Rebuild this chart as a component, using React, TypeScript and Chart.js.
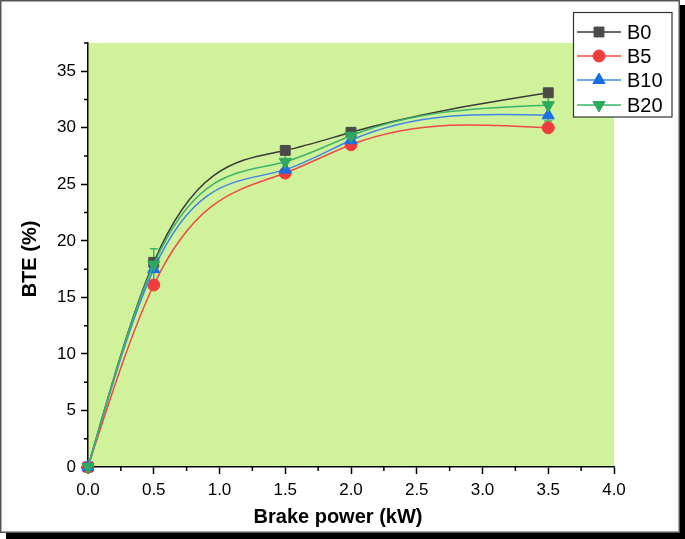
import React, { useEffect, useRef } from "react";
import { Chart, registerables } from "chart.js";

Chart.register(...registerables);

const xValues = [0, 0.5, 1.5, 2.0, 3.5];
const seriesLabels = ["B0", "B5", "B10", "B20"];
const b0 = [0, 18.1, 28.0, 29.6, 33.1];
const b5 = [0, 16.1, 26.0, 28.5, 30.0];
const b10 = [0, 17.5, 26.3, 28.9, 31.1];
const b20 = [0, 17.9, 27.0, 29.3, 32.0];
const b20Err = [0, 1.4, 0.8, 0.5, 1.4];
const xTicks = [0, 0.5, 1, 1.5, 2, 2.5, 3, 3.5, 4];
const yTicks = [0, 5, 10, 15, 20, 25, 30, 35];
const xMinor = [0.25, 0.75, 1.25, 1.75, 2.25, 2.75, 3.25, 3.75];
const yMinor = [2.5, 7.5, 12.5, 17.5, 22.5, 27.5, 32.5, 37.5];

const FONT = "'Liberation Sans', Arial, sans-serif";

const styles = [
  { line: "#3a3a3a", fill: "#4a4a4a", point: "rect", radius: 7, rotation: 0 },
  { line: "#f04848", fill: "#f03c3c", point: "circle", radius: 6, rotation: 0 },
  { line: "#3f86e8", fill: "#1a6ee6", point: "triangle", radius: 7, rotation: 0 },
  { line: "#3cb46a", fill: "#2ea85e", point: "triangle", radius: 7, rotation: 180 },
];

const seriesValues = [b0, b5, b10, b20];

function drawMarker(ctx: CanvasRenderingContext2D, kind: string, r: number, rotationDeg: number, x: number, y: number) {
  ctx.beginPath();
  if (kind === "rect") {
    const s = r / Math.SQRT2;
    ctx.rect(x - s, y - s, 2 * s, 2 * s);
  } else if (kind === "circle") {
    ctx.arc(x, y, r, 0, Math.PI * 2);
  } else {
    let rad = (rotationDeg * Math.PI) / 180;
    ctx.moveTo(x + Math.sin(rad) * r, y - Math.cos(rad) * r);
    rad += (2 * Math.PI) / 3;
    ctx.lineTo(x + Math.sin(rad) * r, y - Math.cos(rad) * r);
    rad += (2 * Math.PI) / 3;
    ctx.lineTo(x + Math.sin(rad) * r, y - Math.cos(rad) * r);
    ctx.closePath();
  }
  ctx.fill();
  ctx.stroke();
}

// Natural cubic spline rendering: set Bezier control points of the line's point elements
function applyNaturalSpline(points: any[]) {
  const n = points.length - 1;
  if (n < 2) return;
  const xs = points.map((p) => p.x);
  const ys = points.map((p) => p.y);
  const h: number[] = [];
  for (let i = 0; i < n; i++) h.push(xs[i + 1] - xs[i]);
  const M = new Array(n + 1).fill(0);
  // tridiagonal system for interior second derivatives
  const a: number[] = [], b: number[] = [], c: number[] = [], d: number[] = [];
  for (let i = 1; i < n; i++) {
    a.push(h[i - 1]);
    b.push(2 * (h[i - 1] + h[i]));
    c.push(h[i]);
    d.push(6 * ((ys[i + 1] - ys[i]) / h[i] - (ys[i] - ys[i - 1]) / h[i - 1]));
  }
  const m = b.length;
  for (let i = 1; i < m; i++) {
    const w = a[i] / b[i - 1];
    b[i] -= w * c[i - 1];
    d[i] -= w * d[i - 1];
  }
  const sol = new Array(m).fill(0);
  sol[m - 1] = d[m - 1] / b[m - 1];
  for (let i = m - 2; i >= 0; i--) sol[i] = (d[i] - c[i] * sol[i + 1]) / b[i];
  for (let i = 1; i < n; i++) M[i] = sol[i - 1];
  const slope: number[] = [];
  for (let i = 0; i < n; i++) {
    slope.push((ys[i + 1] - ys[i]) / h[i] - (h[i] * (2 * M[i] + M[i + 1])) / 6);
  }
  slope.push((ys[n] - ys[n - 1]) / h[n - 1] + (h[n - 1] * (M[n - 1] + 2 * M[n])) / 6);
  for (let i = 0; i <= n; i++) {
    const p = points[i];
    const hp = i > 0 ? h[i - 1] : 0;
    const hn = i < n ? h[i] : 0;
    p.cp1x = xs[i] - hp / 3;
    p.cp1y = ys[i] - (slope[i] * hp) / 3;
    p.cp2x = xs[i] + hn / 3;
    p.cp2y = ys[i] + (slope[i] * hn) / 3;
  }
}

const framePlugin = {
  id: "frame",
  beforeDraw(chart: any) {
    const { ctx, chartArea } = chart;
    ctx.save();
    ctx.fillStyle = "#ffffff";
    ctx.fillRect(0, 0, 685, 539);
    ctx.fillStyle = "#000000";
    ctx.fillRect(680, 5, 5, 534);
    ctx.fillRect(6, 533, 679, 6);
    ctx.strokeStyle = "#555555";
    ctx.lineWidth = 1.5;
    ctx.strokeRect(0.75, 0.75, 678.5, 531.5);
    ctx.fillStyle = "#d0f29a";
    ctx.fillRect(chartArea.left, chartArea.top, chartArea.right - chartArea.left, chartArea.bottom - chartArea.top);
    ctx.restore();
  },
  beforeDatasetsDraw(chart: any) {
    chart.data.datasets.forEach((_ds: any, i: number) => {
      const meta = chart.getDatasetMeta(i);
      const line = meta.dataset;
      if (line && meta.data) {
        applyNaturalSpline(meta.data);
        line._pointsUpdated = true;
      }
    });
    const { ctx } = chart;
    const xs = chart.scales.x;
    const ys = chart.scales.y;
    ctx.save();
    ctx.strokeStyle = "#000";
    ctx.lineWidth = 1.5;
    ctx.beginPath();
    xMinor.forEach((v) => {
      const px = xs.getPixelForValue(v);
      ctx.moveTo(px, ys.bottom);
      ctx.lineTo(px, ys.bottom + 4);
    });
    yMinor.forEach((v) => {
      const py = ys.getPixelForValue(v);
      ctx.moveTo(xs.left, py);
      ctx.lineTo(xs.left - 4, py);
    });
    ctx.stroke();
    ctx.strokeStyle = styles[3].line;
    ctx.lineWidth = 1.5;
    ctx.beginPath();
    xValues.forEach((x, i) => {
      const e = b20Err[i];
      if (!e) return;
      const px = xs.getPixelForValue(x);
      const top = ys.getPixelForValue(b20[i] + e);
      const bot = ys.getPixelForValue(b20[i] - e);
      ctx.moveTo(px, top);
      ctx.lineTo(px, bot);
      ctx.moveTo(px - 4, top);
      ctx.lineTo(px + 4, top);
      ctx.moveTo(px - 4, bot);
      ctx.lineTo(px + 4, bot);
    });
    ctx.stroke();
    ctx.restore();
  },
  afterDraw(chart: any) {
    const { ctx } = chart;
    ctx.save();
    ctx.fillStyle = "#000";
    ctx.font = `bold 20px ${FONT}`;
    ctx.textAlign = "center";
    ctx.textBaseline = "middle";
    ctx.fillText("Brake power (kW)", 338, 517);
    ctx.translate(30, 259);
    ctx.rotate(-Math.PI / 2);
    ctx.fillText("BTE (%)", 0, 0);
    ctx.restore();

    ctx.save();
    ctx.fillStyle = "#ffffff";
    ctx.fillRect(573, 12, 99, 105);
    ctx.strokeStyle = "#333";
    ctx.lineWidth = 1.2;
    ctx.strokeRect(573.5, 12.5, 98.5, 104.5);
    const rows = [32, 56, 80, 105];
    chart.data.datasets.forEach((ds: any, i: number) => {
      const y = rows[i];
      ctx.strokeStyle = ds.borderColor;
      ctx.lineWidth = 1.5;
      ctx.beginPath();
      ctx.moveTo(577, y);
      ctx.lineTo(621, y);
      ctx.stroke();
      ctx.fillStyle = ds.pointBackgroundColor;
      ctx.strokeStyle = ds.pointBorderColor;
      ctx.lineWidth = 1;
      const s = styles[i];
      drawMarker(ctx, s.point, s.radius, s.rotation, 599, y);
      ctx.fillStyle = "#000";
      ctx.font = `20px ${FONT}`;
      ctx.textAlign = "left";
      ctx.textBaseline = "middle";
      ctx.fillText(ds.label, 627, y + 1);
    });
    ctx.restore();
  },
};

export default function App() {
  const ref = useRef<HTMLCanvasElement | null>(null);
  useEffect(() => {
    document.body.style.margin = "0";
    const canvas = ref.current!;
    const datasets = seriesLabels.map((label, i) => ({
      label,
      data: xValues.map((x, j) => ({ x, y: seriesValues[i][j] })),
      borderColor: styles[i].line,
      backgroundColor: styles[i].fill,
      pointBackgroundColor: styles[i].fill,
      pointBorderColor: styles[i].fill,
      pointBorderWidth: 1,
      pointStyle: styles[i].point,
      pointRotation: styles[i].rotation,
      pointRadius: styles[i].radius,
      borderWidth: 1.5,
      tension: 0.4,
      clip: false,
      order: 4 - i,
    }));
    const chart = new Chart(canvas, {
      type: "line",
      data: { datasets },
      plugins: [framePlugin],
      options: {
        responsive: false,
        animation: false,
        layout: { padding: { top: 43, right: 71, left: 0, bottom: 0 } },
        plugins: { legend: { display: false }, tooltip: { enabled: false } },
        scales: {
          x: {
            type: "linear",
            min: 0,
            max: 4,
            afterFit: (s: any) => { s.height = 72; },
            afterBuildTicks: (s: any) => { s.ticks = xTicks.map((v) => ({ value: v })); },
            ticks: {
              callback: (v: any) => Number(v).toFixed(1),
              color: "#000",
              font: { family: FONT, size: 17 },
              padding: 6,
              maxRotation: 0,
            },
            grid: { drawOnChartArea: false, drawTicks: true, tickLength: 7, tickColor: "#000", tickWidth: 1.5 },
            border: { display: true, color: "#000", width: 1.5 },
          },
          y: {
            type: "linear",
            min: 0,
            max: 37.5,
            afterFit: (s: any) => { s.width = 88; },
            afterBuildTicks: (s: any) => { s.ticks = yTicks.map((v) => ({ value: v })); },
            ticks: {
              color: "#000",
              font: { family: FONT, size: 17 },
              padding: 5,
            },
            grid: { drawOnChartArea: false, drawTicks: true, tickLength: 7, tickColor: "#000", tickWidth: 1.5 },
            border: { display: true, color: "#000", width: 1.5 },
          },
        },
      },
    } as any);
    return () => chart.destroy();
  }, []);
  return (
    <div style={{ width: 685, height: 539 }}>
      <canvas ref={ref} width={685} height={539} style={{ display: "block" }} />
    </div>
  );
}
